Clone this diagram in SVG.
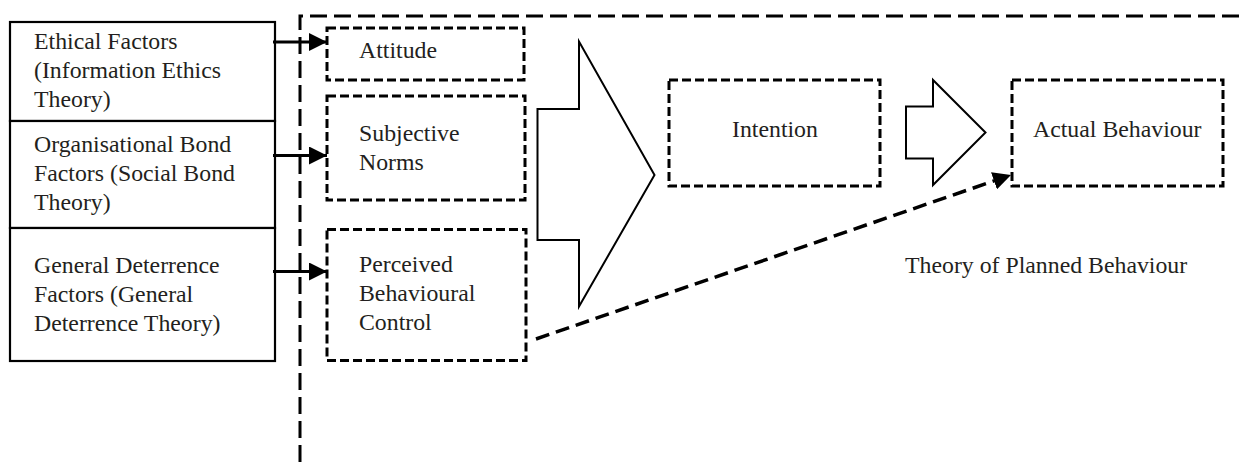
<svg xmlns="http://www.w3.org/2000/svg" width="1242" height="462" viewBox="0 0 1242 462">
  <style>
    .txt { font-family: "Liberation Serif", "Times New Roman", serif; font-size: 23.8px; fill: #231f20; }
    .solid { fill: #fff; stroke: #000; stroke-width: 2.2; }
    .dbox { fill: none; stroke: #000; stroke-width: 3; stroke-dasharray: 9 4; }
    .frame { fill: none; stroke: #000; stroke-width: 3; stroke-dasharray: 17 7; }
    .block { fill: #fff; stroke: #000; stroke-width: 2; stroke-linejoin: miter; }
    .link { fill: none; stroke: #000; stroke-width: 3.2; }
    .dlink { fill: none; stroke: #000; stroke-width: 3.5; stroke-dasharray: 14 7; }
  </style>
  <defs>
    <marker id="head" viewBox="0 0 10 10" refX="10" refY="5" markerWidth="18" markerHeight="18" markerUnits="userSpaceOnUse" orient="auto">
      <path d="M0,0 L10,5 L0,10 Z" fill="#000"/>
    </marker>
  </defs>

  <rect width="1242" height="462" fill="#fff"/>

  <!-- Theory of Planned Behaviour frame -->
  <g id="tpb-frame">
    <path class="frame" d="M300,462 V16 H1242"/>
    <text class="txt" x="905" y="273.3">Theory of Planned Behaviour</text>
  </g>

  <!-- external factor stack -->
  <g id="ethical-factors">
    <rect class="solid" x="10" y="22" width="265" height="99"/>
    <text class="txt" x="34" y="49.3">Ethical Factors</text>
    <text class="txt" x="34" y="78.3">(Information Ethics</text>
    <text class="txt" x="34" y="107.3">Theory)</text>
  </g>
  <g id="bond-factors">
    <rect class="solid" x="10" y="121" width="265" height="107"/>
    <text class="txt" x="34" y="151.5">Organisational Bond</text>
    <text class="txt" x="34" y="180.5">Factors (Social Bond</text>
    <text class="txt" x="34" y="209.5">Theory)</text>
  </g>
  <g id="deterrence-factors">
    <rect class="solid" x="10" y="228" width="265" height="133"/>
    <text class="txt" x="34" y="273.3">General Deterrence</text>
    <text class="txt" x="34" y="302">Factors (General</text>
    <text class="txt" x="34" y="330.7">Deterrence Theory)</text>
  </g>

  <!-- TPB constructs -->
  <g id="attitude">
    <rect class="dbox" x="327" y="28" width="197" height="52"/>
    <text class="txt" x="359" y="57.7">Attitude</text>
  </g>
  <g id="subjective-norms">
    <rect class="dbox" x="327" y="96" width="198" height="104"/>
    <text class="txt" x="359" y="141">Subjective</text>
    <text class="txt" x="359" y="169.5">Norms</text>
  </g>
  <g id="perceived-control">
    <rect class="dbox" x="327" y="229.5" width="199" height="131"/>
    <text class="txt" x="359" y="272.3">Perceived</text>
    <text class="txt" x="359" y="301">Behavioural</text>
    <text class="txt" x="359" y="330">Control</text>
  </g>
  <g id="intention">
    <rect class="dbox" x="669" y="80" width="211" height="106"/>
    <text class="txt" x="732" y="137.3">Intention</text>
  </g>
  <g id="actual-behaviour">
    <rect class="dbox" x="1012" y="80" width="211" height="106"/>
    <text class="txt" x="1033" y="136.7">Actual Behaviour</text>
  </g>

  <!-- connectors -->
  <g id="connectors">
    <path class="block" d="M537.5,109 H579 V41.5 L654.5,175 L579,306.5 V240 H537.5 Z"/>
    <path class="block" d="M906,106.5 H933 V80 L985.5,132.5 L933,185 V158.5 H906 Z"/>
    <line class="link" x1="273" y1="42" x2="327" y2="42" marker-end="url(#head)"/>
    <line class="link" x1="273" y1="155.5" x2="327" y2="155.5" marker-end="url(#head)"/>
    <line class="link" x1="273" y1="271.5" x2="327" y2="271.5" marker-end="url(#head)"/>
    <line class="dlink" x1="536" y1="339" x2="1011" y2="175" marker-end="url(#head)"/>
  </g>
</svg>
